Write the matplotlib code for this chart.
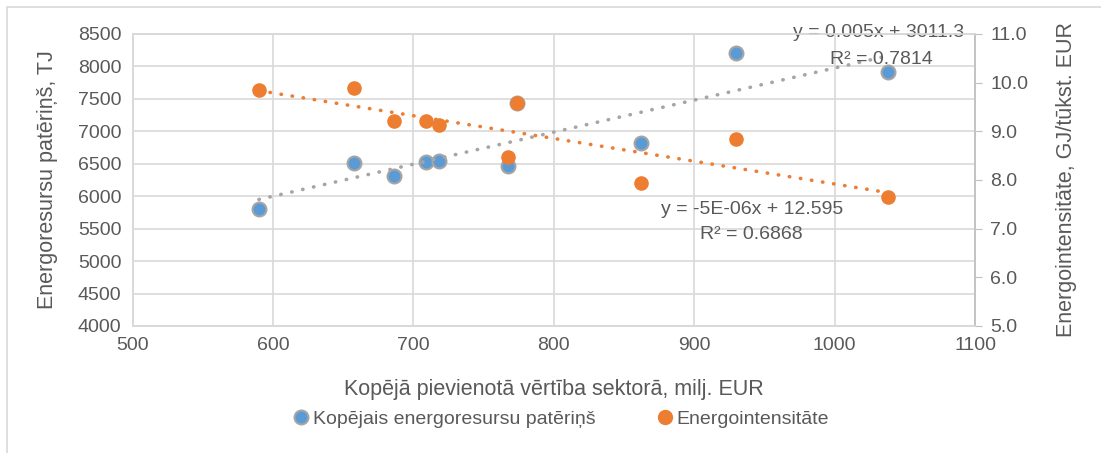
import numpy as np
import matplotlib.pyplot as plt
from matplotlib.lines import Line2D
from matplotlib.patches import Rectangle

# data
vertiba = [590, 658, 686, 709, 718, 767, 774, 862, 930, 1038]
paterins = [5810, 6510, 6310, 6520, 6550, 6470, 7430, 6820, 8210, 7920]
intensitate = [9.84, 9.90, 9.22, 9.21, 9.12, 8.47, 9.58, 7.94, 8.85, 7.65]

x_ticks = [500, 600, 700, 800, 900, 1000, 1100]
y_ticks = list(range(4000, 8501, 500))
y2_ticks = [5.0, 6.0, 7.0, 8.0, 9.0, 10.0, 11.0]

eq_blue = ["y = 0.005x + 3011.3", "R² = 0.7814"]
eq_orange = ["y = -5E-06x + 12.595", "R² = 0.6868"]

BLUE = "#5b9bd5"
ORANGE = "#ed7d31"
GRAY = "#a5a5a5"
TXT = "#595959"
GRID = "#d9d9d9"

plt.rcParams['font.family'] = ['Liberation Sans Narrow', 'Liberation Sans', 'DejaVu Sans']

fig = plt.figure(figsize=(11.01, 4.53), dpi=100)
ax = fig.add_axes([0.1204, 0.2804, 0.7653, 0.6446])
ax2 = ax.twinx()

# outer chart border
fig.patches.append(Rectangle((7 / 1101, -0.1), 1.2, 1 - 7 / 453 + 0.1, transform=fig.transFigure,
                             fill=False, edgecolor=GRID, linewidth=1.2))

x = np.array(vertiba, dtype=float)
xs = np.array([x.min(), x.max()])
dots = (0, (0.1, 3.0))

# blue series + trend
ax.scatter(vertiba, paterins, s=100, color=BLUE, edgecolor=GRAY, linewidth=1.5, zorder=3)
kb = np.polyfit(x, paterins, 1)
ax.plot(xs, np.polyval(kb, xs), color=GRAY, linewidth=2.6, linestyle=dots,
        dash_capstyle='round', zorder=4)

# orange series + trend
ax2.scatter(vertiba, intensitate, s=90, color=ORANGE, edgecolor=ORANGE, linewidth=1, zorder=3)
ko = np.polyfit(x, intensitate, 1)
ax2.plot(xs, np.polyval(ko, xs), color=ORANGE, linewidth=2.6, linestyle=dots,
         dash_capstyle='round', zorder=4)

ax.set_xlim(500, 1100)
ax.set_ylim(4000, 8500)
ax2.set_ylim(5, 11)
ax.set_xticks(x_ticks)
ax.set_yticks(y_ticks)
ax2.set_yticks(y2_ticks)
ax2.set_yticklabels([f"{v:.1f}" for v in y2_ticks])

ax.grid(True, color=GRID, linewidth=1.2)
ax.set_axisbelow(True)
for a in (ax, ax2):
    for s in a.spines.values():
        s.set_color(GRID)
        s.set_linewidth(1.2)
ax2.spines['right'].set_color("#bfbfbf")
ax.tick_params(axis='both', length=0, labelsize=14, labelcolor=TXT, pad=8)
ax2.tick_params(axis='y', length=5, color="#bfbfbf", labelsize=14, labelcolor=TXT, pad=6)

ax.set_xlabel("Kopējā pievienotā vērtība sektorā, milj. EUR", fontsize=15.5, color=TXT, labelpad=18)
ax.set_ylabel("Energoresursu patēriņš, TJ", fontsize=15.5, color=TXT, labelpad=14)
ax2.set_ylabel("Energointensitāte, GJ/tūkst. EUR", fontsize=15.5, color=TXT, labelpad=20)

ax.text(1092, 8530, eq_blue[0], ha='right', va='center', fontsize=14, color=TXT, zorder=6)
ax.text(1070, 8100, eq_blue[1], ha='right', va='center', fontsize=14, color=TXT, zorder=6)
ax.text(1006, 5788, eq_orange[0], ha='right', va='center', fontsize=14, color=TXT, zorder=6)
ax.text(977, 5403, eq_orange[1], ha='right', va='center', fontsize=14, color=TXT, zorder=6)

handles = [
    Line2D([], [], marker='o', linestyle='none', markersize=10, markerfacecolor=BLUE,
           markeredgecolor=GRAY, markeredgewidth=1.5),
    Line2D([], [], marker='o', linestyle='none', markersize=10, markerfacecolor=ORANGE,
           markeredgecolor=ORANGE),
]
fig.legend(handles, ["Kopējais energoresursu patēriņš", "Energointensitāte"], loc='center',
           bbox_to_anchor=(0.508, 0.074), ncol=2, frameon=False, fontsize=14, labelcolor=TXT,
           handletextpad=0.0, columnspacing=3.0, handlelength=1.2)

fig.savefig("out.png", dpi=100)
